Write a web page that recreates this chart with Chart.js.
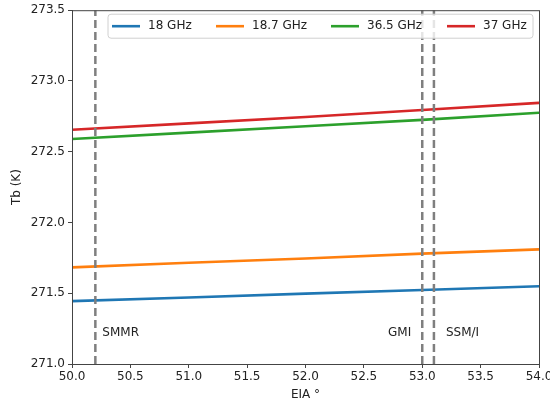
<!DOCTYPE html>
<html>
<head>
<meta charset="utf-8">
<script src="https://cdn.jsdelivr.net/npm/chart.js@4/dist/chart.umd.min.js"></script>
<style>
  html, body { margin: 0; padding: 0; background: #fff; }
  #wrap { width: 550px; height: 405px; }
</style>
</head>
<body>
<div id="wrap"><canvas id="chart1"></canvas></div>
<script>
// incidence angles (EIA, degrees)
const eia = [50, 51, 52, 53, 54];

// brightness temperature per frequency
const tb18 = [271.444, 271.470, 271.497, 271.523, 271.549];
const tb187 = [271.683, 271.715, 271.745, 271.780, 271.810];
const tb365 = [272.590, 272.635, 272.680, 272.725, 272.775];
const tb37 = [272.655, 272.700, 272.745, 272.795, 272.845];

const seriesNames = ['18 GHz', '18.7 GHz', '36.5 GHz', '37 GHz'];
const seriesColors = ['#1f77b4', '#ff7f0e', '#2ca02c', '#d62728'];

// sensor incidence angles
const sensorNames = ['SMMR', 'GMI', 'SSM/I'];
const sensorAngles = [50.2, 53.0, 53.1];

const yMin = 271.0, yMax = 273.5;
const labelY = 271.22;

const FONT = 'DejaVu Sans';

function toPoints(ys) {
    return eia.map((x, i) => ({ x: x, y: ys[i] }));
}

const lineSets = [tb18, tb187, tb365, tb37].map((ys, i) => ({
    label: seriesNames[i],
    data: toPoints(ys),
    borderColor: seriesColors[i],
    borderWidth: 2.6,
    pointRadius: 0,
    fill: false,
    tension: 0
}));

const sensorSets = sensorAngles.map((a, i) => ({
    label: sensorNames[i],
    data: [{ x: a, y: yMin }, { x: a, y: yMax }],
    borderColor: '#7f7f7f',
    borderWidth: 2.5,
    borderDash: [8, 4],
    pointRadius: 0,
    fill: false
}));

// frame + sensor labels + legend box like matplotlib
const extras = {
    id: 'extras',
    afterDatasetsDraw(chart) {
        const ctx = chart.ctx;
        const a = chart.chartArea;
        const xs = chart.scales.x, ys = chart.scales.y;
        ctx.save();

        // sensor names
        ctx.fillStyle = '#222';
        ctx.font = '12px "' + FONT + '"';
        ctx.textBaseline = 'middle';
        const py = ys.getPixelForValue(labelY);
        ctx.textAlign = 'left';
        ctx.fillText(sensorNames[0], xs.getPixelForValue(sensorAngles[0]) + 7, py);
        ctx.textAlign = 'right';
        ctx.fillText(sensorNames[1], xs.getPixelForValue(sensorAngles[1]) - 11, py);
        ctx.textAlign = 'left';
        ctx.fillText(sensorNames[2], xs.getPixelForValue(sensorAngles[2]) + 12, py);

        // legend
        const lx = a.left + 36, ly = a.top + 4, lw = 425, lh = 24;
        ctx.beginPath();
        ctx.roundRect(lx, ly, lw, lh, 3);
        ctx.fillStyle = 'rgba(255,255,255,0.8)';
        ctx.fill();
        ctx.strokeStyle = '#d0d0d0';
        ctx.lineWidth = 1;
        ctx.stroke();
        const offs = [4, 108, 223, 339];
        ctx.textAlign = 'left';
        for (let i = 0; i < 4; i++) {
            const x0 = lx + offs[i];
            const yc = ly + lh / 2;
            ctx.beginPath();
            ctx.moveTo(x0, yc);
            ctx.lineTo(x0 + 28, yc);
            ctx.strokeStyle = seriesColors[i];
            ctx.lineWidth = 2.6;
            ctx.stroke();
            ctx.fillStyle = '#222';
            ctx.fillText(seriesNames[i], x0 + 36, yc);
        }

        // spines
        ctx.strokeStyle = '#444';
        ctx.lineWidth = 1;
        ctx.strokeRect(a.left + 0.5, a.top + 0.5, a.right - a.left, a.bottom - a.top);
        ctx.restore();
    }
};

new Chart(document.getElementById('chart1'), {
    type: 'line',
    data: { datasets: sensorSets.concat(lineSets) },
    options: {
        responsive: true,
        maintainAspectRatio: false,
        animation: false,
        layout: { padding: { left: 0, right: 11, top: 9, bottom: 0 } },
        plugins: {
            legend: { display: false },
            tooltip: { enabled: false }
        },
        scales: {
            x: {
                type: 'linear',
                min: 50,
                max: 54,
                afterFit: s => { s.height = 41; s.paddingRight = 0; s.paddingLeft = 0; },
                ticks: {
                    stepSize: 0.5,
                    color: '#222',
                    font: { family: FONT, size: 12 },
                    padding: 2,
                    maxRotation: 0,
                    callback: v => v.toFixed(1)
                },
                grid: { drawOnChartArea: false, drawTicks: true, tickLength: 4, color: '#444' },
                border: { color: '#444' },
                title: {
                    display: true,
                    text: 'EIA °',
                    color: '#222',
                    font: { family: FONT, size: 12 },
                    padding: { top: 2, bottom: 3 }
                }
            },
            y: {
                min: yMin,
                max: yMax,
                afterFit: s => { s.width = 72; },
                ticks: {
                    stepSize: 0.5,
                    color: '#222',
                    font: { family: FONT, size: 12 },
                    padding: 3,
                    callback: v => v.toFixed(1)
                },
                grid: { drawOnChartArea: false, drawTicks: true, tickLength: 4, color: '#444' },
                border: { color: '#444' },
                title: {
                    display: true,
                    text: 'Tb (K)',
                    color: '#222',
                    font: { family: FONT, size: 12 },
                    padding: { top: 10, bottom: 0 }
                }
            }
        }
    },
    plugins: [extras]
});
</script>
</body>
</html>
